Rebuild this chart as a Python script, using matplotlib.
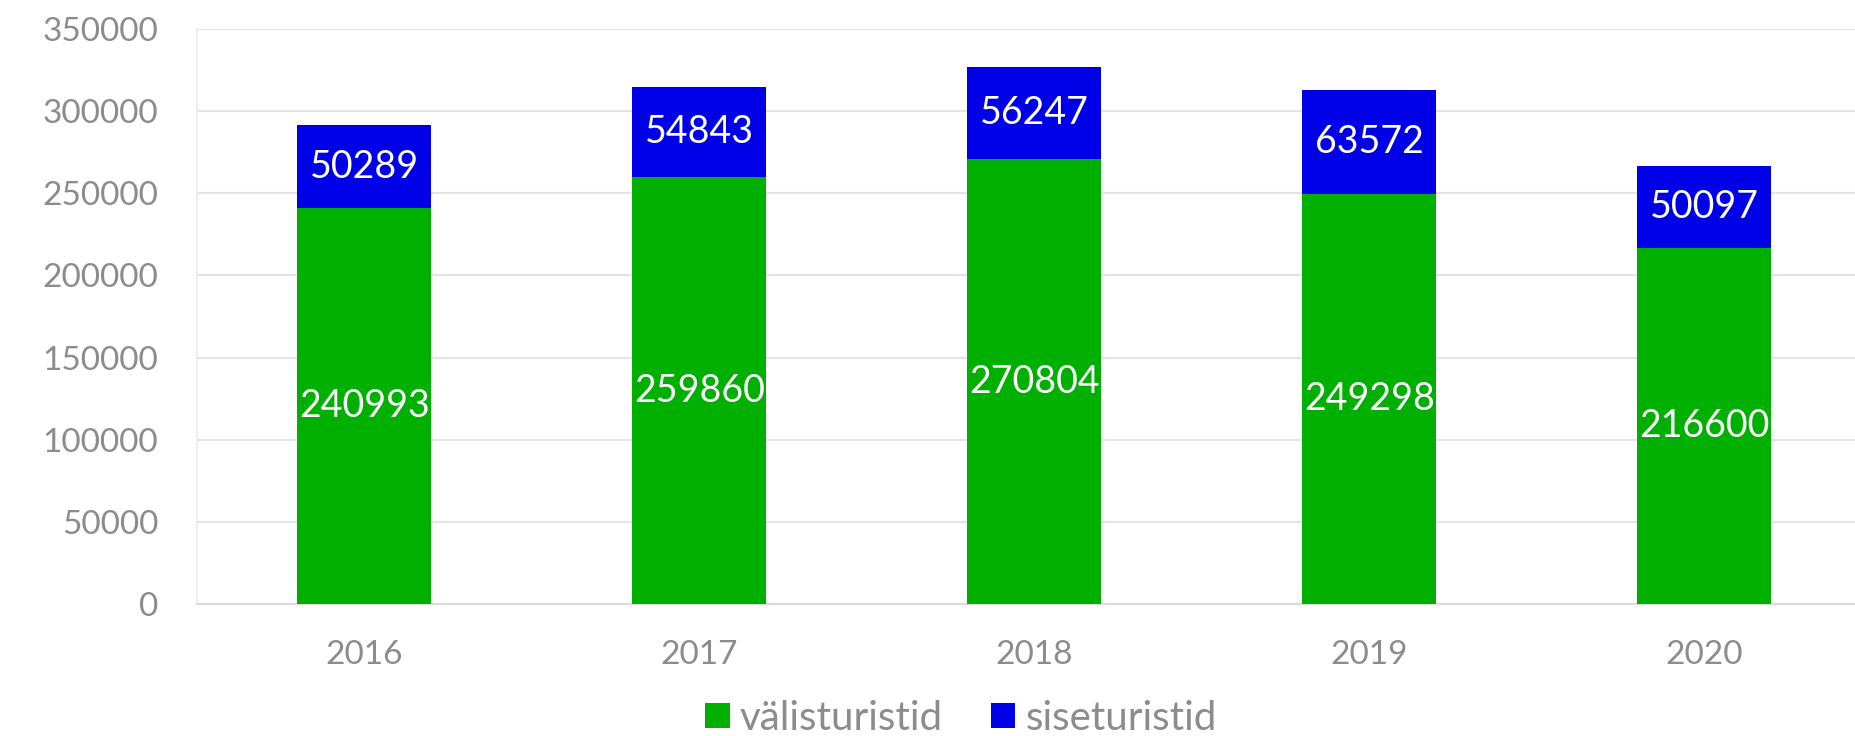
import matplotlib
matplotlib.use("Agg")
import matplotlib.pyplot as plt
import numpy as np

years = ["2016", "2017", "2018", "2019", "2020"]
foreign = [240993, 259860, 270804, 249298, 216600]
domestic = [50289, 54843, 56247, 63572, 50097]
yticks = [0, 50000, 100000, 150000, 200000, 250000, 300000, 350000]

plt.rcParams['font.family'] = ['Lato', 'DejaVu Sans']

fig = plt.figure(figsize=(18.56, 7.36), dpi=100)
ax = fig.add_axes([197/1856, 1 - 604/736, (1856-197)/1856, (604-29)/736])

x = np.arange(len(years))
green = "#00B000"
blue = "#0000E8"
w = 0.4
b1 = ax.bar(x, foreign, w, color=green, label="välisturistid", zorder=3)
b2 = ax.bar(x, domestic, w, bottom=foreign, color=blue, label="siseturistid", zorder=3)

for i in range(len(years)):
    ax.text(x[i], foreign[i] / 2, str(foreign[i]), ha="center", va="center",
            color="white", fontsize=27, zorder=4)
    ax.text(x[i], foreign[i] + domestic[i] / 2, str(domestic[i]), ha="center", va="center",
            color="white", fontsize=27, zorder=4)

ax.set_xlim(-0.5, -0.5 + (1856-197)/335)
ax.set_ylim(0, 350000)
ax.set_yticks(yticks)
ax.set_yticklabels([str(v) for v in yticks])
ax.set_xticks(x)
ax.set_xticklabels(years)
ax.tick_params(axis="both", length=0, labelsize=24, labelcolor="#8c8c8c")
ax.tick_params(axis="x", pad=26)
ax.tick_params(axis="y", pad=28)
ax.grid(axis="y", color="#e4e4e4", linewidth=1.5, zorder=0)
for s in ["top", "right"]:
    ax.spines[s].set_visible(False)
ax.spines["left"].set_color("#eeeeee")
ax.spines["left"].set_linewidth(1.5)
ax.spines["bottom"].set_color("#dcdcdc")
ax.spines["bottom"].set_linewidth(1.5)

leg = fig.legend(handles=[b1, b2], loc="center", bbox_to_anchor=(961/1856, 1 - 718/736),
                 ncol=2, frameon=False, fontsize=29, handlelength=0.6, handleheight=0.6,
                 handletextpad=0.25, columnspacing=1.2, labelcolor="#8c8c8c")

fig.savefig("out.png", dpi=100)
